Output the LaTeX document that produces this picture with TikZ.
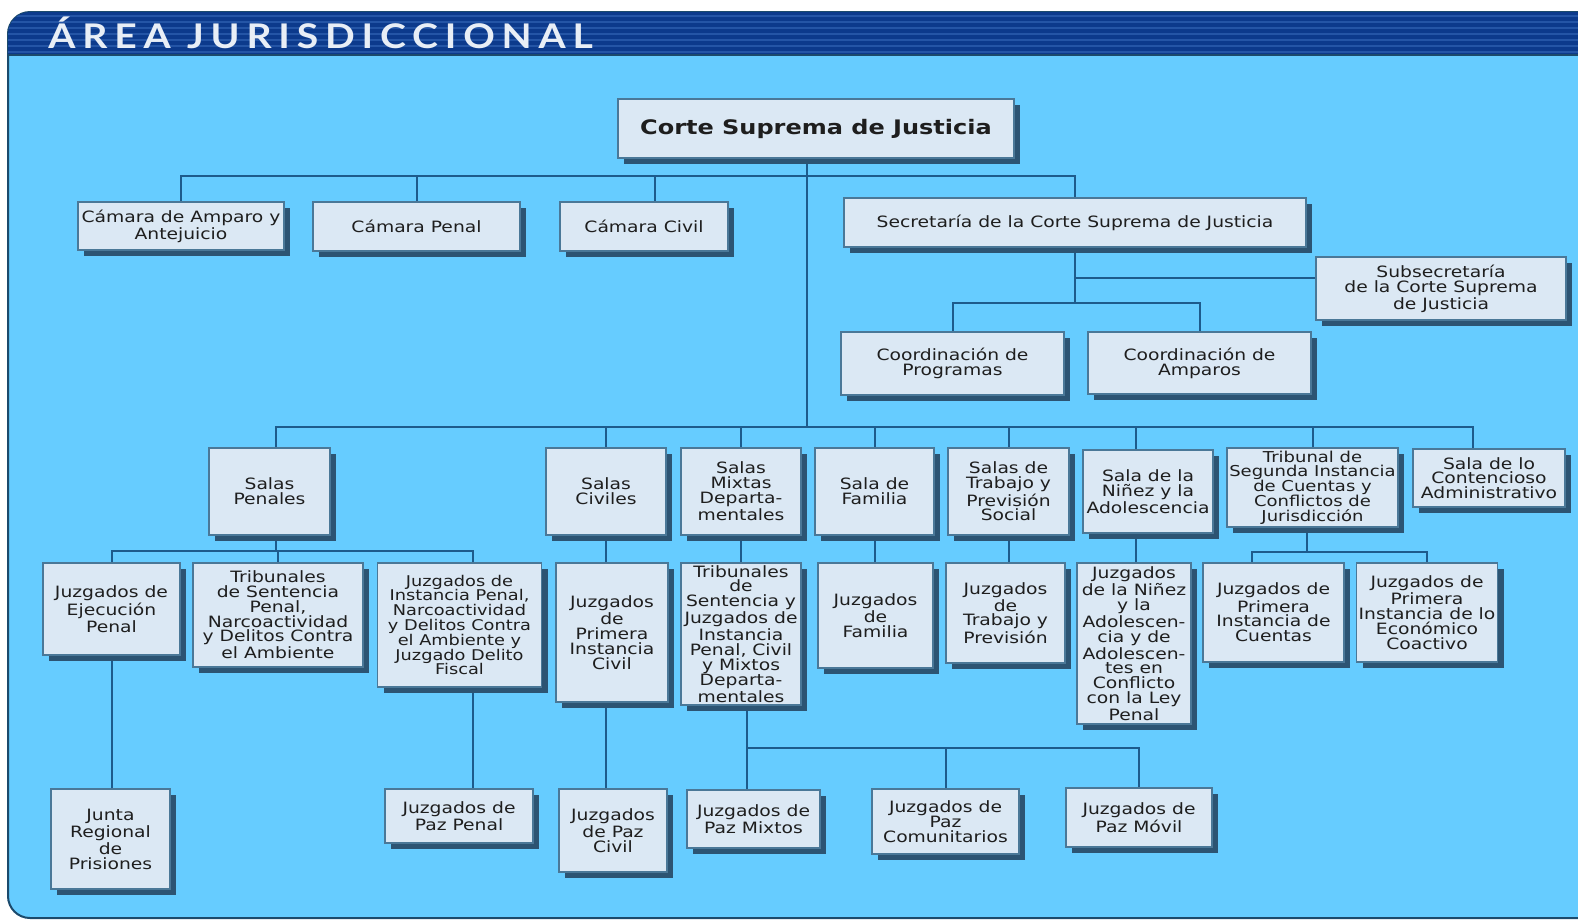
\documentclass[tikz,border=0pt]{standalone}
\usepackage{fontspec}
\setmainfont{DejaVu Sans}[FakeStretch=1.2]
\newfontfamily\titulofont{Lato}[LetterSpace=20,FakeStretch=1.15]
\usetikzlibrary{shadows}
\definecolor{colfondo}{HTML}{66CCFF}
\definecolor{colcabecera}{HTML}{0C3A8C}
\definecolor{colraya}{HTML}{2455A6}
\definecolor{colborde}{HTML}{1B4A6C}
\definecolor{colcaja}{HTML}{DBE8F4}
\definecolor{colcajaborde}{HTML}{4A7898}
\definecolor{colsombra}{HTML}{2C5473}
\definecolor{collinea}{HTML}{1D5B8C}
\definecolor{coltexto}{HTML}{1E1E1E}
\definecolor{coltitulo}{HTML}{E8EEF6}
\pgfdeclarelayer{fondo}
\pgfsetlayers{fondo,main}
\begin{document}
\begin{tikzpicture}[x=0.5pt,y=-0.5pt,
  caja/.style={draw=colcajaborde,line width=0.6pt,fill=colcaja,text=coltexto,
    align=center,inner sep=1pt,font=\fontsize{7.8}{7.4}\selectfont,
    drop shadow={shadow xshift=3.2pt,shadow yshift=-3.2pt,fill=colsombra,opacity=1}},
  conector/.style={draw=collinea,line width=1pt}]
  \useasboundingbox (0,0) rectangle (1578,922);

  % cabecera
  \node[anchor=base west,inner sep=0,text=coltitulo,
    font=\titulofont\bfseries\fontsize{17}{19}\selectfont] (titulo) at (48,48) {ÁREA JURISDICCIONAL};

  % nivel 1
  \node[caja,font=\bfseries\fontsize{10}{12}\selectfont,minimum width=198pt,minimum height=29.5pt] (corte) at (816,128.5) {Corte Suprema de Justicia};
  \node[caja,minimum width=103pt,minimum height=24pt] (camAmp) at (181,226) {Cámara de Amparo y\\Antejuicio};
  \node[caja,minimum width=103.5pt,minimum height=24.5pt] (camPen) at (416.5,226.5) {Cámara Penal};
  \node[caja,minimum width=84pt,minimum height=24.5pt] (camCiv) at (644,226.5) {Cámara Civil};
  \node[caja,minimum width=231pt,minimum height=24.5pt] (secre) at (1075,222.5) {Secretaría de la Corte Suprema de Justicia};
  \node[caja,minimum width=125pt,minimum height=31.5pt] (subsec) at (1441,288.5) {Subsecretaría\\de la Corte Suprema\\de Justicia};
  \node[caja,minimum width=111.5pt,minimum height=31.5pt] (coordProg) at (952.5,363.5) {Coordinación de\\Programas};
  \node[caja,minimum width=111.5pt,minimum height=31pt] (coordAmp) at (1199.5,363) {Coordinación de\\Amparos};

  % salas
  \node[caja,minimum width=60.5pt,minimum height=43.5pt] (salPen) at (269.5,491.5) {Salas\\Penales};
  \node[caja,minimum width=60pt,minimum height=43.5pt] (salCiv) at (606,491.5) {Salas\\Civiles};
  \node[caja,minimum width=60pt,minimum height=43.5pt] (salMix) at (741,491.5) {Salas\\Mixtas\\Departa-\\mentales};
  \node[caja,minimum width=59.5pt,minimum height=43.5pt] (salFam) at (874.5,491.5) {Sala de\\Familia};
  \node[caja,minimum width=60.5pt,minimum height=43.5pt] (salTrab) at (1008.5,491.5) {Salas de\\Trabajo y\\Previsión\\Social};
  \node[caja,minimum width=65pt,minimum height=41.5pt] (salNin) at (1148,491.5) {Sala de la\\Niñez y la\\Adolescencia};
  \node[caja,font=\fontsize{7.5}{7.4}\selectfont,minimum width=85.5pt,minimum height=39.5pt] (tribSeg) at (1312.5,487.5) {Tribunal de\\Segunda Instancia\\de Cuentas y\\Conflictos de\\Jurisdicción};
  \node[caja,minimum width=76pt,minimum height=29pt] (contAdm) at (1489,478) {Sala de lo\\Contencioso\\Administrativo};

  % juzgados y tribunales
  \node[caja,minimum width=68.5pt,minimum height=46pt] (juzEje) at (111.5,609) {Juzgados de\\Ejecución\\Penal};
  \node[caja,minimum width=85pt,minimum height=52pt] (tribSent) at (278,615) {Tribunales\\de Sentencia\\Penal,\\Narcoactividad\\y Delitos Contra\\el Ambiente};
  \node[caja,font=\fontsize{7.4}{7.4}\selectfont,minimum width=82pt,minimum height=62pt] (juzInst) at (459.5,625) {Juzgados de\\Instancia Penal,\\Narcoactividad\\y Delitos Contra\\el Ambiente y\\Juzgado Delito\\Fiscal};
  \node[caja,minimum width=56pt,minimum height=69.5pt] (juzCiv) at (612,632.5) {Juzgados\\de\\Primera\\Instancia\\Civil};
  \node[caja,minimum width=60pt,minimum height=71pt] (tribMix) at (741,634) {Tribunales\\de\\Sentencia y\\Juzgados de\\Instancia\\Penal, Civil\\y Mixtos\\Departa-\\mentales};
  \node[caja,minimum width=57.5pt,minimum height=52.5pt] (juzFam) at (875.5,615.5) {Juzgados\\de\\Familia};
  \node[caja,minimum width=59.5pt,minimum height=50pt] (juzTrab) at (1005.5,613) {Juzgados\\de\\Trabajo y\\Previsión};
  \node[caja,minimum width=57pt,minimum height=80.5pt] (juzNin) at (1134,643.5) {Juzgados\\de la Niñez\\y la\\Adolescen-\\cia y de\\Adolescen-\\tes en\\Conflicto\\con la Ley\\Penal};
  \node[caja,minimum width=70.5pt,minimum height=49.5pt] (juzCue) at (1273.5,612.5) {Juzgados de\\Primera\\Instancia de\\Cuentas};
  \node[caja,minimum width=70pt,minimum height=49.5pt] (juzCoa) at (1427,612.5) {Juzgados de\\Primera\\Instancia de lo\\Económico\\Coactivo};

  % juzgados de paz
  \node[caja,minimum width=59.5pt,minimum height=50pt] (junta) at (110.5,839) {Junta\\Regional\\de\\Prisiones};
  \node[caja,minimum width=74pt,minimum height=27pt] (pazPen) at (459,816) {Juzgados de\\Paz Penal};
  \node[caja,minimum width=54pt,minimum height=41.5pt] (pazCiv) at (613,830.5) {Juzgados\\de Paz\\Civil};
  \node[caja,minimum width=66.5pt,minimum height=29pt] (pazMix) at (753.5,819) {Juzgados de\\Paz Mixtos};
  \node[caja,minimum width=73.5pt,minimum height=32.5pt] (pazCom) at (945.5,821.5) {Juzgados de\\Paz\\Comunitarios};
  \node[caja,minimum width=73pt,minimum height=29.5pt] (pazMov) at (1139,817.5) {Juzgados de\\Paz Móvil};

  % puntos de union
  \coordinate (t0) at (807,176);
  \coordinate (t3) at (807,427);
  \coordinate (s1) at (1075,278);
  \coordinate (s2) at (1075,303);
  \coordinate (p4) at (275.5,551);
  \coordinate (tg) at (1307,552);
  \coordinate (m5) at (747,748);
  \coordinate (cc) at ([xshift=5.5pt]camCiv.north);
  \coordinate (sp) at ([xshift=3pt]salPen.north);
  \coordinate (sn) at ([xshift=-6pt]salNin.north);
  \coordinate (ca) at ([xshift=-8pt]contAdm.north);
  \coordinate (ji) at ([xshift=6.5pt]juzInst.north);
  \coordinate (jc) at ([xshift=-11pt]juzCue.north);

  \begin{pgfonlayer}{fondo}
    % panel
    \filldraw[fill=colfondo,draw=colborde,line width=1pt,rounded corners=11pt]
      (1700,918) -- (8,918) -- (8,12) -- (1700,12);
    \begin{scope}
      \clip[rounded corners=11pt] (1700,918) -- (8,918) -- (8,12) -- (1700,12) -- cycle;
      \fill[colcabecera] (8,12) rectangle (1578,55);
      \foreach \y in {16,22,...,52}
        \draw[colraya,line width=1pt] (8,\y) -- (1578,\y);
      \draw[colborde,line width=1pt] (8,55) -- (1578,55);
    \end{scope}

    % conectores
    \draw[conector] (corte.south -| t0) -- (t3);
    \draw[conector] (camAmp.north) |- (secre.north |- t0) -- (secre.north);
    \draw[conector] (camPen.north) -- (camPen.north |- t0);
    \draw[conector] (cc) -- (cc |- t0);
    \draw[conector] (secre.south) -- (s2);
    \draw[conector] (s1) -- (s1 -| subsec.west);
    \draw[conector] (coordProg.north) |- (coordAmp.north |- s2) -- (coordAmp.north);

    \draw[conector] (sp) |- (ca |- t3) -- (ca);
    \foreach \n in {salCiv,salMix,salFam,salTrab,tribSeg}
      \draw[conector] (\n.north) -- (\n.north |- t3);
    \draw[conector] (sn) -- (sn |- t3);

    \draw[conector] (p4 |- salPen.south) -- (p4);
    \draw[conector] (juzEje.north) |- (ji |- p4) -- (ji);
    \draw[conector] (tribSent.north) -- (tribSent.north |- p4);
    \draw[conector] (salCiv.south) -- (salCiv.south |- juzCiv.north);
    \draw[conector] (salMix.south) -- (salMix.south |- tribMix.north);
    \draw[conector] (salFam.south) -- (salFam.south |- juzFam.north);
    \draw[conector] (salTrab.south) -- (salTrab.south |- juzTrab.north);
    \draw[conector] (sn |- salNin.south) -- (sn |- juzNin.north);
    \draw[conector] (tg |- tribSeg.south) -- (tg);
    \draw[conector] (jc) |- (juzCoa.north |- tg) -- (juzCoa.north);

    \draw[conector] (juzEje.south) -- (juzEje.south |- junta.north);
    \draw[conector] (ji |- juzInst.south) -- (ji |- pazPen.north);
    \draw[conector] (salCiv.south |- juzCiv.south) -- (salCiv.south |- pazCiv.north);
    \draw[conector] (m5 |- tribMix.south) -- (m5 |- pazMix.north);
    \draw[conector] (m5) -| (pazMov.north);
    \draw[conector] (pazCom.north) -- (pazCom.north |- m5);
  \end{pgfonlayer}
\end{tikzpicture}
\end{document}
